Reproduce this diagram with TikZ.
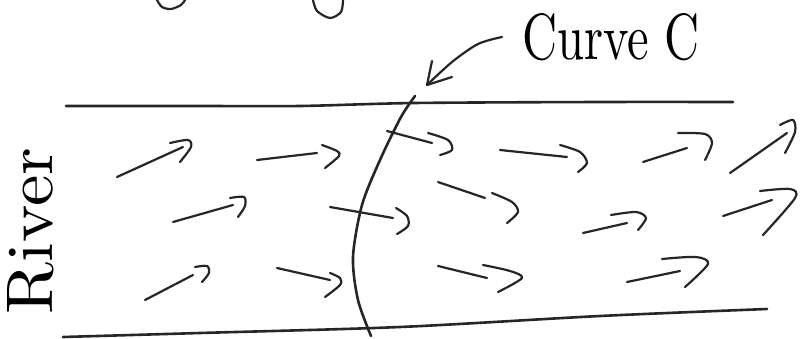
\documentclass[tikz,border=0pt]{standalone}
\usepackage{graphicx}
\begin{document}
\begin{tikzpicture}[x=1pt,y=-1pt,
  pen/.style={line width=2.6pt,color=black!85,line cap=round,line join=round},
  thin pen/.style={line width=2.2pt,color=black!85,line cap=round,line join=round}]
\useasboundingbox[fill=white] (0,0) rectangle (802,339);

% fragments of letters cut off at the top
\draw[thin pen] plot[smooth] coordinates {(157,0) (162,7) (171,9) (181,5) (185,0)};
\draw[thin pen] plot[smooth] coordinates {(313,0) (317,11) (330,18) (341,12) (343,0)};

% river banks
\draw[pen] plot[smooth] coordinates {(66,106) (200,106) (300,106) (415,103) (600,102) (733,102)};
\draw[pen] plot[smooth] coordinates {(63,337) (200,333) (400,327) (600,316) (767,309)};

% curve C
\draw[pen] plot[smooth] coordinates {(415,96) (401,117) (380,160) (362,205) (353,257) (358,300) (371,336)};

% annotation arrow and label
\draw[thin pen] plot[smooth] coordinates {(502,37) (478,44) (452,62) (427,85)};
\draw[thin pen] (432,61) -- (427,85) -- (452,77);
\node (lab) at (611,37) {\resizebox{178pt}{46pt}{Curve C}};

% River label
\node (river) at (31,231) [rotate=90] {\resizebox{166pt}{45pt}{River}};

% flow arrows: shaft + hook
\newcommand{\flowarrow}[6]{%
  \draw[thin pen] #1 -- #2;
  \draw[thin pen] plot[smooth] coordinates {#3 #4 #5 #6};}

% row 1
\flowarrow{(117,177)}{(183,147)}{(170,143)}{(188,140)}{(191,147)}{(180,162)}
\flowarrow{(257,160)}{(317,153)}{(322,145)}{(337,151)}{(339,156)}{(325,168)}
\flowarrow{(387,131)}{(432,143)}{(428,133)}{(448,140)}{(452,150)}{(440,155)}
\flowarrow{(500,150)}{(567,157)}{(560,145)}{(580,152)}{(587,163)}{(578,172)}
\flowarrow{(643,162)}{(687,148)}{(678,133)}{(705,134)}{(712,143)}{(705,160)}
\flowarrow{(730,173)}{(787,133)}{(780,125)}{(793,120)}{(795,132)}{(785,153)}

% row 2
\flowarrow{(173,222)}{(233,205)}{(230,198)}{(244,197)}{(245,206)}{(238,217)}
\flowarrow{(330,207)}{(393,218)}{(396,208)}{(407,216)}{(408,226)}{(397,234)}
\flowarrow{(438,182)}{(485,198)}{(492,193)}{(512,202)}{(518,212)}{(507,223)}
\flowarrow{(583,233)}{(627,223)}{(611,215)}{(636,212)}{(646,218)}{(638,230)}
\flowarrow{(723,216)}{(772,200)}{(760,191)}{(790,189)}{(795,198)}{(763,235)}

% row 3
\flowarrow{(145,300)}{(193,275)}{(195,267)}{(207,266)}{(209,273)}{(202,282)}
\flowarrow{(277,268)}{(330,280)}{(330,273)}{(340,278)}{(340,285)}{(325,297)}
\flowarrow{(438,266)}{(487,278)}{(483,265)}{(510,271)}{(522,278)}{(498,292)}
\flowarrow{(627,282)}{(680,271)}{(662,259)}{(696,257)}{(708,264)}{(685,287)}
\end{tikzpicture}
\end{document}
